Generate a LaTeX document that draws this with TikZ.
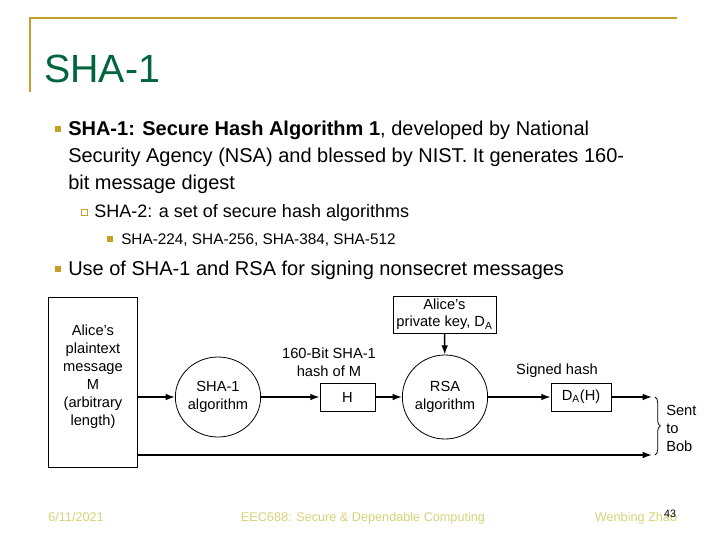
\documentclass[tikz,border=0pt]{standalone}
\usepackage{fontspec}
\setmainfont{Liberation Sans}
\usetikzlibrary{shapes.geometric,arrows.meta,decorations.pathreplacing}
\definecolor{gold}{RGB}{196,160,40}
\definecolor{tgreen}{RGB}{0,100,60}
\definecolor{foot}{RGB}{215,210,120}
\begin{document}
\begin{tikzpicture}[x=0.75pt,y=-0.75pt,
  txt/.style={anchor=base west,inner sep=0pt},
  bul/.style={fill=gold,inner sep=0pt,minimum size=5pt},
  sbul/.style={draw=gold,inner sep=0pt,minimum size=4.5pt,line width=0.6pt},
  box/.style={draw,line width=0.6pt,inner sep=0pt,font=\fontsize{11}{13}\selectfont},
  ell/.style={draw,ellipse,line width=0.6pt,inner sep=0pt,align=center,font=\fontsize{11}{13}\selectfont},
  lab/.style={align=center,inner sep=0pt,font=\fontsize{11}{13.5}\selectfont},
  arr/.style={line width=1.1pt,-{Latex[length=7pt,width=5pt]}},
  ft/.style={inner sep=0pt,text=foot,font=\fontsize{9.5}{10}\selectfont,anchor=base}]
\useasboundingbox (0,0) rectangle (720,540);
\draw[gold,line width=2.2pt] (30,92) -- (30,18) -- (677,18);
\node[txt,text=tgreen,font=\fontsize{29.5}{32}\selectfont] (title) at (44,82) {SHA-1};
\fontsize{15}{18}\selectfont
\node[bul] (b1) at (58,129) {};
\node[txt] (t1) at (68,135) {\textbf{SHA-1: Secure Hash Algorithm 1}, developed by National};
\node[txt] (t2) at (68,162) {Security Agency (NSA) and blessed by NIST. It generates 160-};
\node[txt] (t3) at (68,189) {bit message digest};
\node[sbul] (b2) at (84,212) {};
\node[txt,font=\fontsize{13.5}{16}\selectfont] (t4) at (94,217) {SHA-2: a set of secure hash algorithms};
\node[bul,minimum size=4.5pt] (b3) at (110,239) {};
\node[txt,font=\fontsize{11.5}{14}\selectfont] (t5) at (121,244) {SHA-224, SHA-256, SHA-384, SHA-512};
\node[bul] (b4) at (58,269) {};
\node[txt] (t6) at (68,275) {Use of SHA-1 and RSA for signing nonsecret messages};
% diagram
\node[box,minimum width=89*0.75pt,minimum height=170*0.75pt,align=center] (msg) at (92.5,382) {};
\node[lab] (msgt) at (93,377) {Alice's\\plaintext\\message\\M\\(arbitrary\\length)};
\node[ell,minimum width=74*0.75pt,minimum height=80*0.75pt] (sha) at (218,397) {SHA-1\\algorithm};
\node[box,minimum width=55*0.75pt,minimum height=28*0.75pt] (h) at (347.5,397) {H};
\node[ell,minimum width=74*0.75pt,minimum height=84*0.75pt] (rsa) at (445,397) {RSA\\algorithm};
\node[box,minimum width=60*0.75pt,minimum height=28*0.75pt] (dah) at (581,397) {D\textsubscript{A}(H)};
\node[box,minimum width=103*0.75pt,minimum height=37*0.75pt,align=center] (key) at (444.5,314.5) {Alice's\\private key, D\textsubscript{A}};
\node[lab] (hl) at (329,362) {160-Bit SHA-1\\hash of M};
\node[lab] (sl) at (557,371) {Signed hash};
\coordinate (e1) at (652,397);
\coordinate (e2) at (652,455);
\draw[arr] (msg.east |- sha) -- (sha);
\draw[arr] (sha) -- (h);
\draw[arr] (h) -- (rsa);
\draw[arr] (rsa) -- (dah);
\draw[arr] (dah) -- (e1);
\draw[arr] (key) -- (rsa);
\draw[arr] (msg.east |- e2) -- (e2);
\draw[line width=0.6pt,decorate,decoration={brace,amplitude=4pt}] (655,397) -- (655,455);
\node[lab,anchor=west,align=left] (bob) at (666,428) {Sent\\to\\Bob};
% footer
\node[ft] (f1) at (76,521) {6/11/2021};
\node[ft] (f2) at (363,521) {EEC688: Secure \& Dependable Computing};
\node[ft] (f3) at (636,521) {Wenbing Zhao};
\node[ft,text=black,font=\fontsize{8}{9}\selectfont] (pg) at (670,517) {43};
\end{tikzpicture}
\end{document}
